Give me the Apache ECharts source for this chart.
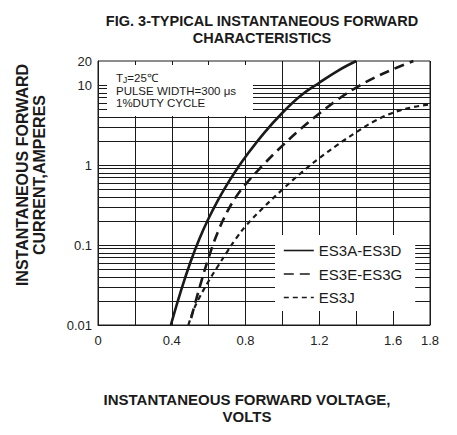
<!DOCTYPE html>
<html><head><meta charset="utf-8">
<script src="https://cdn.jsdelivr.net/npm/echarts@6/dist/echarts.min.js"></script>
<style>html,body{margin:0;padding:0;background:#fff}#c{width:457px;height:435px}</style>
</head><body><div id="c"></div>
<script>
const titleLines = ['FIG. 3-TYPICAL INSTANTANEOUS FORWARD', 'CHARACTERISTICS'];
const xAxisTitle = ['INSTANTANEOUS FORWARD VOLTAGE,', 'VOLTS'];
const yAxisTitle = ['INSTANTANEOUS FORWARD', 'CURRENT,AMPERES'];
const noteLines = ['T{s|J}=25℃', 'PULSE WIDTH=300 μs', '1%DUTY CYCLE'];
const seriesNames = ['ES3A-ES3D', 'ES3E-ES3G', 'ES3J'];
const xTickLabels = ['0', '0.4', '0.8', '1.2', '1.6', '1.8'];
const yTickLabels = ['0.01', '0.1', '1', '10', '20'];
const yGridValues = [0.02, 0.03, 0.04, 0.05, 0.06, 0.07, 0.08, 0.09, 0.1,
  0.2, 0.3, 0.4, 0.5, 0.6, 0.7, 0.8, 0.9, 1,
  2, 3, 4, 5, 6, 7, 8, 9, 10];

// ES3A-ES3D (solid)
const adVolts = [0.395, 0.45, 0.50, 0.55, 0.60, 0.65, 0.70, 0.75, 0.80, 0.90, 1.00, 1.10, 1.20, 1.30, 1.40];
const adAmps  = [0.01, 0.0269, 0.0601, 0.120, 0.216, 0.362, 0.574, 0.869, 1.27, 2.51, 4.51, 7.40, 10.7, 15.1, 20];
// ES3E-ES3G (dashed)
const egVolts = [0.505, 0.55, 0.60, 0.65, 0.70, 0.75, 0.80, 0.90, 1.00, 1.10, 1.20, 1.30, 1.40, 1.50, 1.60, 1.71];
const egAmps  = [0.0122, 0.0291, 0.0698, 0.146, 0.259, 0.406, 0.574, 1.03, 1.75, 2.84, 4.41, 6.59, 9.31, 12.4, 15.8, 20];
// ES3J (short dash)
const jVolts = [0.49, 0.52, 0.55, 0.60, 0.65, 0.70, 0.75, 0.80, 0.90, 1.00, 1.10, 1.20, 1.30, 1.40, 1.50, 1.60, 1.70, 1.80];
const jAmps  = [0.01, 0.0158, 0.0221, 0.0355, 0.0543, 0.0822, 0.122, 0.172, 0.299, 0.495, 0.794, 1.22, 1.80, 2.57, 3.55, 4.52, 5.25, 5.73];

const pairs = (xs, ys) => xs.map((x, i) => [x, ys[i]]);
const FONT = '"Liberation Sans", Arial, Helvetica, sans-serif';
const INK = '#1a1a1a';

const chart = echarts.init(document.getElementById('c'), null, {renderer: 'svg'});
chart.setOption({
  animation: false,
  backgroundColor: '#fff',
  textStyle: {fontFamily: FONT},
  grid: {left: 98, right: 27, top: 61, bottom: 110, show: true, borderColor: INK, borderWidth: 1, backgroundColor: 'transparent'},
  xAxis: {
    type: 'value', min: 0, max: 1.8, interval: 0.2,
    axisLine: {show: true, lineStyle: {color: INK, width: 1}},
    axisTick: {show: false},
    splitLine: {show: true, lineStyle: {color: INK, width: 1}},
    axisLabel: {margin: 9, fontSize: 13, color: '#222', fontFamily: FONT,
      formatter: v => { const s = String(+(+v).toFixed(2)); return xTickLabels.includes(s) ? s : ''; }}
  },
  yAxis: {
    type: 'log', logBase: 10, min: 0.01, max: 20,
    axisLine: {show: true, lineStyle: {color: INK, width: 1}},
    axisTick: {show: false},
    splitLine: {show: false},
    axisLabel: {margin: 6, fontSize: 13, color: '#222', fontFamily: FONT,
      formatter: v => { const s = String(+(+v).toPrecision(3)); return yTickLabels.includes(s) ? s : ''; }}
  },
  legend: {
    orient: 'vertical', left: 275, top: 235,
    padding: [8, 13, 6, 8], itemGap: 8.5, itemWidth: 30, itemHeight: 16,
    backgroundColor: '#fff', data: seriesNames,
    textStyle: {fontSize: 15, color: INK, fontFamily: FONT},
    itemStyle: {color: 'transparent', borderWidth: 0, opacity: 0},
    lineStyle: {width: 1.6}
  },
  graphic: [
    {type: 'rect', z: 1, silent: true, shape: {x: 107, y: 65, width: 146, height: 51}, style: {fill: '#fff'}},
    {type: 'text', z: 3, x: 116, y: 72, style: {text: noteLines.join('\n'), font: '11.5px ' + FONT, fill: INK,
      verticalAlign: 'top', lineHeight: 12.5,
      rich: {s: {fontSize: 8.5, fontFamily: FONT, lineHeight: 12.5, padding: [3, 0, 0, 0]}}}},
    {type: 'text', z: 3, x: 262, y: 29.5, style: {text: titleLines.join('\n'), font: 'bold 14.5px ' + FONT, fill: INK, align: 'center', verticalAlign: 'middle', lineHeight: 16.5}},
    {type: 'text', z: 3, x: 247, y: 408, style: {text: xAxisTitle.join('\n'), font: 'bold 15px ' + FONT, fill: INK, align: 'center', verticalAlign: 'middle', lineHeight: 17.5}},
    {type: 'text', z: 3, x: 31, y: 175, rotation: Math.PI / 2, style: {text: yAxisTitle.join('\n'), font: 'bold 16px ' + FONT, fill: INK, align: 'center', verticalAlign: 'middle', lineHeight: 17}}
  ],
  series: [
    {type: 'line', name: '_grid', data: [], z: 0, silent: true,
      markLine: {z: 0, silent: true, symbol: 'none', label: {show: false}, animation: false,
        lineStyle: {color: INK, width: 1, type: 'solid'}, emphasis: {disabled: true},
        data: yGridValues.map(v => ({yAxis: v}))}},
    {type: 'line', name: seriesNames[0], data: pairs(adVolts, adAmps), smooth: 0.4, symbol: 'none', z: 2,
      lineStyle: {color: INK, width: 2.6, type: 'solid'}, itemStyle: {color: INK}},
    {type: 'line', name: seriesNames[1], data: pairs(egVolts, egAmps), smooth: 0.4, symbol: 'none', z: 2,
      lineStyle: {color: INK, width: 2.6, type: [10, 6]}, itemStyle: {color: INK}},
    {type: 'line', name: seriesNames[2], data: pairs(jVolts, jAmps), smooth: 0.4, symbol: 'none', z: 2,
      lineStyle: {color: INK, width: 2.2, type: [5, 4]}, itemStyle: {color: INK}}
  ]
});
</script></body></html>
